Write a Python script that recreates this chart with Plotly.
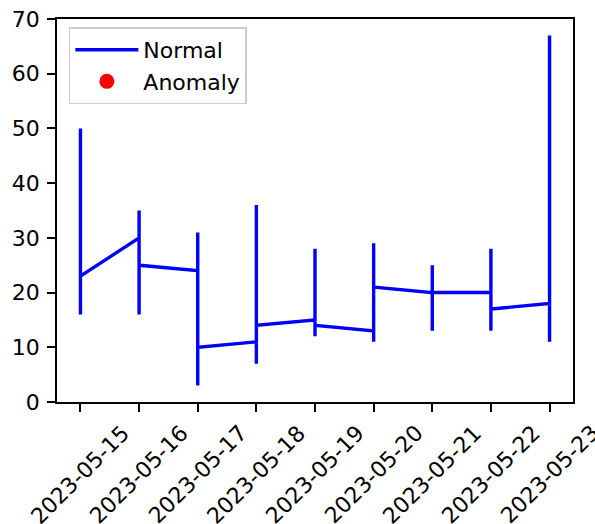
import plotly.graph_objects as go

# ---- data ----
dates = ["2023-05-15", "2023-05-16", "2023-05-17", "2023-05-18", "2023-05-19",
         "2023-05-20", "2023-05-21", "2023-05-22", "2023-05-23"]
# readings recorded under each date (in order)
readings = [
    [50, 16, 23],
    [30, 35, 16, 25],
    [24, 31, 3, 10],
    [11, 36, 7, 14],
    [15, 28, 12, 14],
    [13, 29, 11, 21],
    [20, 25, 13, 20],
    [20, 28, 13, 17],
    [18, 67, 11],
]
anomaly_dates = []
anomaly_values = []
tick_labels = dates
y_ticks = [0, 10, 20, 30, 40, 50, 60, 70]

x_vals = [d for d, r in zip(dates, readings) for _ in r]
y_vals = [v for r in readings for v in r]

FONT = "DejaVu Sans"
FS = 22

fig = go.Figure()
fig.add_trace(go.Scatter(x=x_vals, y=y_vals, mode="lines", name="Normal",
                         line=dict(color="#0000ff", width=3.4)))
fig.add_trace(go.Scatter(x=anomaly_dates or [None], y=anomaly_values or [None],
                         mode="markers", name="Anomaly",
                         marker=dict(color="#ff0000", size=15)))

for d, lab in zip(dates, tick_labels):
    fig.add_annotation(x=d, y=0, xref="x", yref="paper", text=lab,
                       textangle=-45, showarrow=False, xanchor="center",
                       yanchor="top", yshift=-17, borderpad=0,
                       font=dict(family=FONT, size=FS, color="black"))

fig.update_layout(
    width=595, height=524,
    margin=dict(l=57, r=22, t=19, b=122, autoexpand=False),
    paper_bgcolor="white", plot_bgcolor="white",
    font=dict(family=FONT, size=FS, color="black"),
    showlegend=True,
    legend=dict(x=0.023, y=0.978, xanchor="left", yanchor="top",
                bgcolor="rgba(255,255,255,0.8)", bordercolor="#cccccc",
                borderwidth=1.5, itemwidth=63,
                font=dict(family=FONT, size=FS, color="black")),
)
fig.update_xaxes(type="date", range=["2023-05-14 14:24", "2023-05-23 09:36"],
                 tickvals=dates, showticklabels=False, ticks="outside",
                 ticklen=8, tickwidth=1.7, tickcolor="black", automargin=False,
                 showline=True, linecolor="black", linewidth=1.7, mirror=True,
                 showgrid=False, zeroline=False)
fig.update_yaxes(range=[0, 70], tickvals=y_ticks, ticks="outside",
                 ticklen=8, tickwidth=1.7, tickcolor="black", automargin=False,
                 showline=True, linecolor="black", linewidth=1.7, mirror=True,
                 showgrid=False, zeroline=False, ticklabelstandoff=3,
                 tickfont=dict(family=FONT, size=FS, color="black"))

fig.write_html("out.html",
               config={"displayModeBar": False},
               post_script="document.body.style.margin='0px';"
                           "document.body.style.overflow='hidden';")
